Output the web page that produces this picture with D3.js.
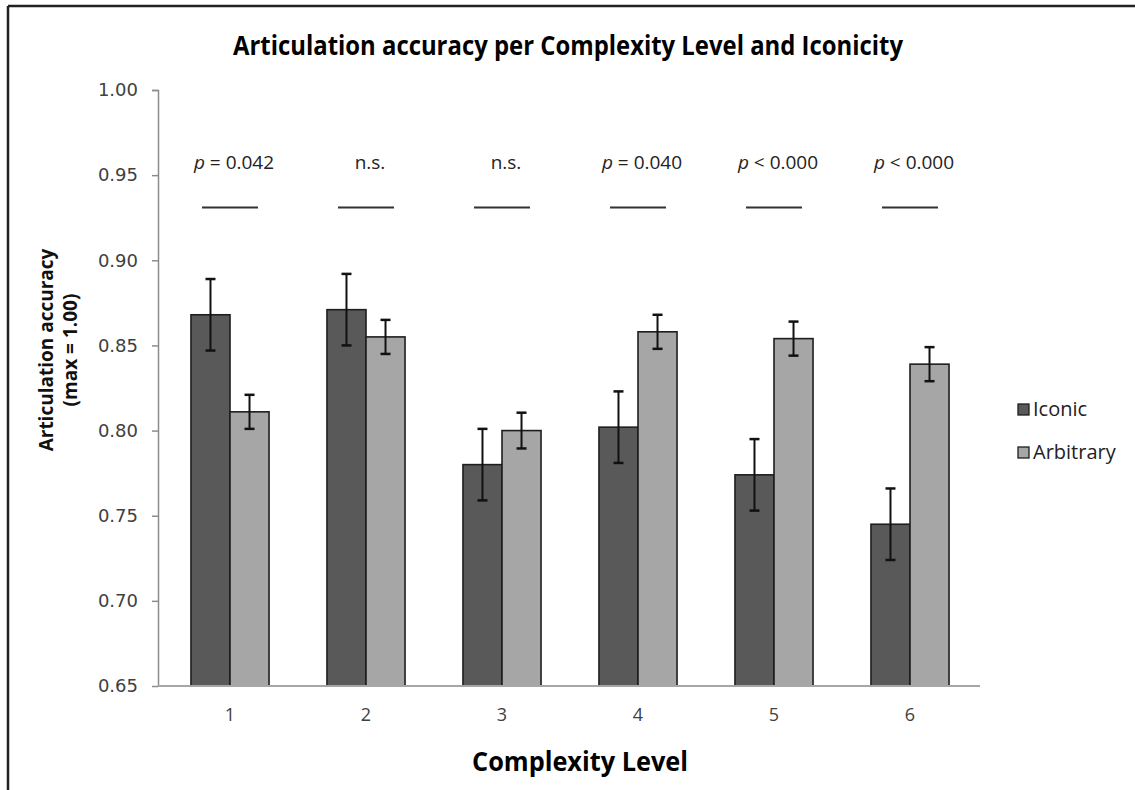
<!DOCTYPE html>
<html><head><meta charset="utf-8">
<script src="https://cdn.jsdelivr.net/npm/d3@7"></script>
<style>body{margin:0;background:#fff}svg{display:block}</style>
</head><body><svg id="c" width="1135" height="790"></svg>
<script>
const categories = ["1","2","3","4","5","6"];
const seriesNames = ["Iconic","Arbitrary"];
const iconic = [0.868, 0.871, 0.780, 0.802, 0.774, 0.745];
const arbitrary = [0.811, 0.855, 0.800, 0.858, 0.854, 0.839];
const iconicErr = [0.021, 0.021, 0.021, 0.021, 0.021, 0.021];
const arbitraryErr = [0.010, 0.010, 0.0105, 0.010, 0.010, 0.010];
const pPrefix = ["p", "", "", "p", "p", "p"];
const pRest = [" = 0.042", "n.s.", "n.s.", " = 0.040", " < 0.000", " < 0.000"];
const yTicks = [0.65, 0.70, 0.75, 0.80, 0.85, 0.90, 0.95, 1.00];
const pLineLevel = 0.931;
const pTextLevel = 0.958;

const colors = {Iconic: "#595959", Arbitrary: "#a6a6a6"};
const svg = d3.select("#c");

// outer frame (top & left visible)
svg.append("line").attr("x1",8).attr("x2",1135).attr("y1",6).attr("y2",6).attr("stroke","#222").attr("stroke-width",2.5);
svg.append("line").attr("x1",8).attr("x2",8).attr("y1",6).attr("y2",790).attr("stroke","#222").attr("stroke-width",2.5);

const x = d3.scaleBand().domain(categories).range([162, 978]).paddingInner(0.426).paddingOuter(0.213);
const xs = d3.scaleBand().domain(seriesNames).range([0, x.bandwidth()]);
const y = d3.scaleLinear().domain([0.65, 1.0]).range([686, 90]);

// title
svg.append("text").attr("x", 568).attr("y", 55).attr("text-anchor","middle")
  .attr("font-family","'Open Sans', sans-serif").attr("font-weight","bold")
  .attr("font-size", 26).attr("fill","#000")
  .attr("textLength", 670).attr("lengthAdjust","spacingAndGlyphs")
  .text("Articulation accuracy per Complexity Level and Iconicity");

// y axis
const yAxis = d3.axisLeft(y).tickValues(yTicks).tickFormat(d3.format(".2f")).tickSize(6).tickPadding(14);
const gy = svg.append("g").attr("transform","translate(158,0)").call(yAxis);
gy.select(".domain").attr("stroke","#8c8c8c").attr("stroke-width",1.5).attr("d","M-6,90.5H0.5V686");
gy.selectAll(".tick line").attr("stroke","#8c8c8c").attr("stroke-width",1.5);
gy.selectAll(".tick text").attr("font-family","'DejaVu Sans', Verdana, sans-serif").attr("font-size",18).attr("fill","#404040");

// bars
const rows = categories.map((c,i)=>({c, vals:[
  {s:"Iconic", v:iconic[i], e:iconicErr[i]},
  {s:"Arbitrary", v:arbitrary[i], e:arbitraryErr[i]}]}));
const g = svg.append("g").selectAll("g").data(rows).join("g")
  .attr("transform", d=>`translate(${x(d.c)},0)`);
g.selectAll("rect").data(d=>d.vals).join("rect")
  .attr("x", d=>xs(d.s)).attr("width", xs.bandwidth())
  .attr("y", d=>y(d.v)).attr("height", d=>y(0.65)-y(d.v))
  .attr("fill", d=>colors[d.s]).attr("stroke","#1e1e1e").attr("stroke-width",1.6);
// error bars
const eb = g.selectAll("g.err").data(d=>d.vals).join("g").attr("class","err");
eb.append("line").attr("x1", d=>xs(d.s)+xs.bandwidth()/2).attr("x2", d=>xs(d.s)+xs.bandwidth()/2)
  .attr("y1", d=>y(d.v+d.e)).attr("y2", d=>y(d.v-d.e)).attr("stroke","#111").attr("stroke-width",2);
[1,-1].forEach(sg=>{
  eb.append("line").attr("x1", d=>xs(d.s)+xs.bandwidth()/2-5).attr("x2", d=>xs(d.s)+xs.bandwidth()/2+5)
    .attr("y1", d=>y(d.v+sg*d.e)).attr("y2", d=>y(d.v+sg*d.e)).attr("stroke","#111").attr("stroke-width",2.5);
});

// x axis
const xAxis = d3.axisBottom(x).tickSize(0).tickPadding(22);
const gx = svg.append("g").attr("transform","translate(0,686)").call(xAxis);
gx.select(".domain").attr("stroke","#a6a6a6").attr("stroke-width",2).attr("d","M158,0H980");
gx.selectAll(".tick text").attr("font-family","'Open Sans', sans-serif").attr("font-size",18).attr("fill","#404040");

// p-value annotations
categories.forEach((c,i)=>{
  const cx = x(c) + x.bandwidth()/2;
  svg.append("line").attr("x1", cx-28).attr("x2", cx+28).attr("y1", y(pLineLevel)).attr("y2", y(pLineLevel))
    .attr("stroke","#333").attr("stroke-width",2);
  const t = svg.append("text").attr("x", cx+4).attr("y", y(pTextLevel)+7).attr("text-anchor","middle")
    .attr("font-family","'Open Sans', sans-serif").attr("font-size",19).attr("fill","#222");
  if (pPrefix[i]) t.append("tspan").attr("font-style","italic").text(pPrefix[i]);
  t.append("tspan").text(pRest[i]);
});

// y axis title
const yt = svg.append("text").attr("transform","translate(53,350) rotate(-90)").attr("text-anchor","middle")
  .attr("font-family","'Open Sans', sans-serif").attr("font-weight","bold").attr("font-size",19).attr("fill","#111");
yt.append("tspan").attr("x",0).attr("dy",0).text("Articulation accuracy");
yt.append("tspan").attr("x",0).attr("dy",24).text("(max = 1.00)");

// x axis title
svg.append("text").attr("x", 580).attr("y", 771).attr("text-anchor","middle")
  .attr("font-family","'Open Sans', sans-serif").attr("font-weight","bold")
  .attr("font-size", 26).attr("fill","#000")
  .attr("textLength", 216).attr("lengthAdjust","spacingAndGlyphs").text("Complexity Level");

// legend
const lg = svg.append("g").selectAll("g").data(seriesNames).join("g")
  .attr("transform",(d,i)=>`translate(1018,${404+i*43})`);
lg.append("rect").attr("width",11).attr("height",11).attr("fill",d=>colors[d]).attr("stroke","#1e1e1e").attr("stroke-width",1.3);
lg.append("text").attr("x",15).attr("y",12).attr("font-family","'Open Sans', sans-serif").attr("font-size",20).attr("fill","#222").text(d=>d);
</script></body></html>
